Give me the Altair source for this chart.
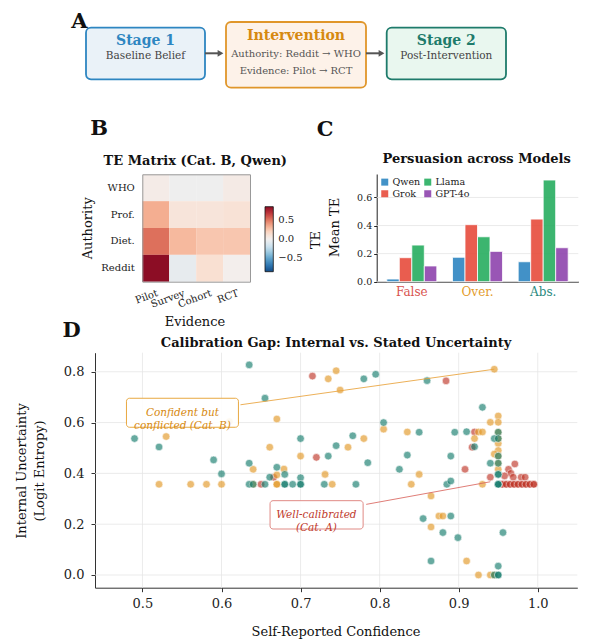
import altair as alt
import pandas as pd

FONT = "DejaVu Serif"
W, H = 578, 634

# ---------------- Panel A (flow diagram) ----------------
stage_titles = ["Stage 1", "Intervention", "Stage 2"]
stage_title_colors = ["#2e86c1", "#d68910", "#1e7b6b"]
box_x0 = [78, 218, 378.7]
box_x1 = [197, 358, 498]
box_y0 = [19.7, 14, 19.7]
box_y1 = [71.3, 79.7, 71.3]
box_fill = ["#eaf2f8", "#fdf2e9", "#e9f7ef"]
box_stroke = ["#2e86c1", "#e0962a", "#1e7b6b"]
arrow_x0 = [197, 358]
arrow_x1 = [212.5, 373.5]
arrow_y = [45.3, 45.3]

# ---------------- Panel B (TE matrix) ----------------
evidence = ["Pilot", "Survey", "Cohort", "RCT"]
authority = ["WHO", "Prof.", "Diet.", "Reddit"]
te_who = [0.03, -0.02, -0.02, 0.04]
te_prof = [0.34, 0.09, 0.09, 0.11]
te_diet = [0.52, 0.30, 0.25, 0.25]
te_reddit = [0.85, -0.06, 0.13, 0.01]

# ---------------- Panel C (bars) ----------------
groups = ["False", "Over.", "Abs."]
group_colors = ["#d9534f", "#e39c2b", "#2a8a7e"]
models = ["Qwen", "Grok", "Llama", "GPT-4o"]
model_colors = ["#2e86c1", "#e74c3c", "#27ae60", "#8e44ad"]
te_qwen = [0.019, 0.174, 0.142]
te_grok = [0.171, 0.406, 0.446]
te_llama = [0.261, 0.320, 0.724]
te_gpt = [0.112, 0.216, 0.242]

# ---------------- Panel D (scatter) ----------------
catA_conf = [0.650, 0.666, 0.720, 0.715, 0.884, 0.920, 0.917, 0.908, 0.940, 0.971,
             0.963, 0.966, 0.969, 0.979, 0.984, 0.958,
             0.955, 0.960, 0.965, 0.970, 0.975, 0.980, 0.985, 0.990, 0.995,
             0.955, 0.960, 0.965, 0.970, 0.975, 0.980, 0.985, 0.990, 0.995]
catA_unc = [0.357, 0.385, 0.463, 0.783, 0.764, 0.563, 0.503, 0.416, 0.385, 0.437,
            0.416, 0.400, 0.385, 0.385, 0.385, 0.390,
            0.357, 0.357, 0.357, 0.357, 0.357, 0.357, 0.357, 0.357, 0.357,
            0.357, 0.357, 0.357, 0.357, 0.357, 0.357, 0.357, 0.357, 0.357]
catB_conf = [0.521, 0.561, 0.581, 0.600, 0.640, 0.670, 0.670, 0.740,
             0.530, 0.610, 0.670, 0.661, 0.640, 0.679, 0.670, 0.700, 0.731,
             0.735, 0.745, 0.750, 0.805, 0.835, 0.780, 0.760, 0.850, 0.840,
             0.865, 0.875, 0.880, 0.865, 0.945, 0.950, 0.940, 0.950, 0.925,
             0.930, 0.920, 0.950, 0.950, 0.945, 0.950, 0.950, 0.950, 0.930,
             0.910, 0.925, 0.940, 0.945, 0.950, 0.950]
catB_unc = [0.357, 0.357, 0.357, 0.357, 0.357, 0.357, 0.357, 0.357,
            0.545, 0.604, 0.614, 0.503, 0.416, 0.417, 0.394, 0.468, 0.396,
            0.772, 0.804, 0.728, 0.574, 0.563, 0.537, 0.503, 0.396, 0.357,
            0.311, 0.232, 0.232, 0.189, 0.810, 0.626, 0.601, 0.601, 0.563,
            0.563, 0.537, 0.518, 0.490, 0.476, 0.468, 0.440, 0.416, 0.357,
            0.055, 0.000, 0.000, 0.000, 0.562, 0.537]
catC_conf = [0.490, 0.521, 0.590, 0.600, 0.635, 0.655, 0.635, 0.670, 0.661, 0.680,
             0.700, 0.700, 0.735, 0.745, 0.766, 0.785, 0.780, 0.795, 0.860, 0.805,
             0.850, 0.895, 0.910, 0.835, 0.890, 0.825, 0.770, 0.885, 0.890, 0.855,
             0.890, 0.880, 0.899, 0.865, 0.930, 0.920, 0.940, 0.956, 0.950, 0.945,
             0.950, 0.950,
             0.635, 0.640, 0.655, 0.680, 0.680, 0.690, 0.700, 0.700, 0.730,
             0.950, 0.945, 0.950, 0.950, 0.950, 0.950, 0.950, 0.950, 0.950, 0.950]
catC_unc = [0.537, 0.504, 0.453, 0.398, 0.827, 0.696, 0.440, 0.424, 0.385, 0.396,
            0.537, 0.383, 0.468, 0.509, 0.548, 0.442, 0.772, 0.790, 0.765, 0.600,
            0.562, 0.562, 0.564, 0.472, 0.468, 0.416, 0.357, 0.357, 0.370, 0.222,
            0.232, 0.167, 0.147, 0.055, 0.660, 0.505, 0.440, 0.167, 0.035, 0.000,
            0.000, 0.000,
            0.357, 0.357, 0.357, 0.357, 0.357, 0.357, 0.357, 0.357, 0.357,
            0.562, 0.537, 0.537, 0.468, 0.440, 0.396, 0.396, 0.357, 0.357, 0.357]
cats = ["Cat. A", "Cat. B", "Cat. C"]
cat_colors = ["#c0392b", "#e39a2a", "#1a7f70"]
x_ticks_D = [0.5, 0.6, 0.7, 0.8, 0.9, 1.0]
y_ticks_D = [0.0, 0.2, 0.4, 0.6, 0.8]
y_ticks_C = [0.0, 0.2, 0.4, 0.6]

ann_text = ["Confident but\nconflicted (Cat. B)", "Well-calibrated\n(Cat. A)"]
ann_x = [0.5506, 0.720]
ann_y = [0.638, 0.237]
ann_text_color = ["#d68910", "#c0392b"]
ann_box_color = ["#e8a840", "#e08a85"]
ann_bx0 = [0.4798, 0.6614]
ann_bx1 = [0.6214, 0.7791]
ann_by0 = [0.5815, 0.181]
ann_by1 = [0.6957, 0.2925]
ann_lx0 = [0.624, 0.783]
ann_ly0 = [0.670, 0.278]
ann_lx1 = [0.945, 0.940]
ann_ly1 = [0.810, 0.367]
ann_line_color = ["#e9a23b", "#d9665f"]

# ---------------- Texts (titles, panel letters, axis titles) ----------------
bold_txt = ["A", "B", "C", "D",
            "TE Matrix (Cat. B, Qwen)", "Persuasion across Models",
            "Calibration Gap: Internal vs. Stated Uncertainty",
            "Stage 1", "Intervention", "Stage 2"]
bold_x = [71.5, 91, 317, 63.5, 187.3, 468.7, 328, 137.5, 288, 438.3]
bold_y = [14, 120.5, 121.5, 322.5, 153, 151, 335, 32.5, 27.5, 32.5]
bold_size = [21, 21, 21, 21, 13, 13, 13, 14, 14, 14]
bold_col = ["#111", "#111", "#111", "#111", "#111", "#111", "#111"] + stage_title_colors

norm_txt = ["Baseline Belief", "Authority: Reddit \u2192 WHO", "Evidence: Pilot \u2192 RCT",
            "Post-Intervention", "Authority", "Evidence", "Mean TE", "TE",
            "Internal Uncertainty", "(Logit Entropy)", "Self-Reported Confidence"]
norm_x = [137.5, 288, 288, 438.3, 79.5, 187, 327, 308, 14, 32, 328]
norm_y = [48.2, 46.3, 63, 48.2, 220.3, 313.5, 219.5, 232, 463, 463, 623.5]
norm_size = [10.5, 10, 10, 10.5, 13, 13, 13, 13, 13, 13, 13]
norm_ang = [0, 0, 0, 0, 270, 0, 270, 270, 270, 270, 0]
norm_col = ["#444", "#555", "#555", "#444", "#111", "#111", "#111", "#111", "#111", "#111", "#111"]

# ======================= build =======================
# Panel A
dfA = pd.DataFrame({"x0": box_x0, "x1": box_x1, "y0": box_y0, "y1": box_y1,
                    "f": box_fill, "s": box_stroke})
rectA = alt.Chart(dfA).mark_rect(cornerRadius=5, strokeWidth=1.8).encode(
    x=alt.X("x0:Q", scale=None, axis=None), x2="x1:Q",
    y=alt.Y("y0:Q", scale=None, axis=None), y2="y1:Q",
    fill=alt.Fill("f:N", scale=None), stroke=alt.Stroke("s:N", scale=None))
dfArr = pd.DataFrame({"x0": arrow_x0, "x1": arrow_x1, "y": arrow_y})
arrows = alt.Chart(dfArr).mark_rule(color="#555", strokeWidth=2).encode(
    x=alt.X("x0:Q", scale=None, axis=None), x2="x1:Q",
    y=alt.Y("y:Q", scale=None, axis=None))
heads = alt.Chart(dfArr).mark_point(shape="triangle-right", filled=True, color="#555",
                                    size=45, opacity=1).encode(
    x=alt.X("x1:Q", scale=None, axis=None), y=alt.Y("y:Q", scale=None, axis=None))

# Panel B
rowsB = []
for a, vals in zip(authority, [te_who, te_prof, te_diet, te_reddit]):
    for e, v in zip(evidence, vals):
        rowsB.append({"au": a, "ev": e, "te": v})
dfB = pd.DataFrame(rowsB)
sxB = alt.Scale(domain=evidence, range=[134.3, 242], paddingInner=0, paddingOuter=0)
syB = alt.Scale(domain=authority, range=[166.3, 273.7], paddingInner=0, paddingOuter=0)
heat = alt.Chart(dfB).mark_rect().encode(
    x=alt.X("ev:N", scale=sxB, axis=alt.Axis(
        orient="bottom", offset=273.7 - H, title=None, tickSize=0, labelAngle=340,
        labelAlign="right", labelBaseline="top", labelPadding=6, labelFontSize=10,
        domainColor="#999", labelColor="#222")),
    y=alt.Y("au:N", scale=syB, axis=alt.Axis(
        orient="left", offset=-134.3, title=None, tickSize=0, labelPadding=8,
        labelFontSize=10, domainColor="#999", labelColor="#222")),
    color=alt.Color("te:Q", scale=alt.Scale(scheme="redblue", reverse=True,
                                            domain=[-0.85, 0.85], domainMid=0),
                    legend=alt.Legend(orient="none", legendX=257, legendY=198.7,
                                      gradientLength=65, gradientThickness=8.3,
                                      values=[-0.5, 0, 0.5], format=".1f", title=None,
                                      labelFontSize=10, labelOffset=5, padding=0,
                                      gradientStrokeColor="#111", gradientStrokeWidth=0.8,
                                      labelColor="#222")))
frameB = alt.Chart(dfB).mark_rect(opacity=0).encode(
    x=alt.X("ev:N", scale=sxB, axis=alt.Axis(orient="top", offset=-166.3, labels=False,
                                             ticks=False, title=None, domainColor="#999")),
    y=alt.Y("au:N", scale=syB, axis=alt.Axis(orient="right", offset=242 - W, labels=False,
                                             ticks=False, title=None, domainColor="#999")))
panelB = alt.layer(heat, frameB).resolve_axis(x="independent", y="independent")

# Panel C
rowsC = []
for m, vals in zip(models, [te_qwen, te_grok, te_llama, te_gpt]):
    for g, v in zip(groups, vals):
        rowsC.append({"grp": g, "model": m, "val": v})
dfC = pd.DataFrame(rowsC)
sxC = alt.Scale(domain=groups, range=[368.7, 570.3], paddingInner=0.239, paddingOuter=0.154)
syC = alt.Scale(domain=[0, 0.767], range=[273.7, 166], nice=False, zero=True)
gridC = alt.Chart(pd.DataFrame({"v": y_ticks_C})).mark_rule(
    color="#e4e4e4", strokeWidth=0.8).encode(
    y=alt.Y("v:Q", scale=syC, axis=alt.Axis(orient="left", offset=-368.7,
                                            values=y_ticks_C, format=".1f",
                                            title=None, grid=False, tickSize=3,
                                            labelPadding=2, labelFontSize=9.5,
                                            domainColor="#222", tickColor="#222",
                                            labelColor="#222")),
    x=alt.value(368.7), x2=alt.value(570.3))
bars = alt.Chart(dfC).mark_bar(opacity=0.9, stroke="white", strokeWidth=0.8).encode(
    x=alt.X("grp:N", scale=sxC, axis=alt.Axis(orient="bottom", offset=273.7 - H,
                                              labels=False, ticks=False, title=None,
                                              domainColor="#222")),
    xOffset=alt.XOffset("model:N", scale=alt.Scale(domain=models, paddingInner=0)),
    y=alt.Y("val:Q", scale=syC, axis=None),
    color=alt.Color("model:N", scale=alt.Scale(domain=models, range=model_colors),
                    legend=alt.Legend(orient="none", legendX=372, legendY=169,
                                      columns=2, symbolType="square", symbolSize=49,
                                      labelFontSize=9.5, title=None, columnPadding=2,
                                      rowPadding=1, padding=0, symbolOpacity=0.9,
                                      symbolStrokeWidth=0, labelOffset=3,
                                      labelColor="#222")))
dfCl = pd.DataFrame({"grp": groups, "gc": group_colors})
labelsC = alt.Chart(dfCl).mark_text(fontSize=12, font=FONT, baseline="middle").encode(
    x=alt.X("grp:N", scale=sxC, axis=None), y=alt.value(284),
    fill=alt.Fill("gc:N", scale=None), text="grp:N")
panelC = alt.layer(gridC, bars, labelsC).resolve_axis(x="independent", y="independent")

# Panel D
dfD = pd.DataFrame({
    "conf": catA_conf + catB_conf + catC_conf,
    "unc": catA_unc + catB_unc + catC_unc,
    "cat": ["Cat. A"] * len(catA_conf) + ["Cat. B"] * len(catB_conf) + ["Cat. C"] * len(catC_conf),
})


def sxD():
    return alt.Scale(domain=[0.44, 1.05], range=[87, 569.3], nice=False, zero=False)


def syD():
    return alt.Scale(domain=[-0.05, 0.875], range=[579.7, 344.7], nice=False, zero=False)


gxD = alt.Chart(pd.DataFrame({"v": x_ticks_D})).mark_rule(color="#e6e6e6", strokeWidth=0.8).encode(
    x=alt.X("v:Q", scale=sxD(), axis=alt.Axis(
        orient="bottom", offset=579.7 - H, values=x_ticks_D, format=".1f", title=None,
        grid=False, tickSize=4, labelPadding=6, labelFontSize=13, domainColor="#333",
        tickColor="#333", labelColor="#222")),
    y=alt.YDatum(-0.05, scale=syD(), axis=None), y2=alt.Y2Datum(0.875))
gyD = alt.Chart(pd.DataFrame({"v": y_ticks_D})).mark_rule(color="#e6e6e6", strokeWidth=0.8).encode(
    y=alt.Y("v:Q", scale=syD(), axis=alt.Axis(
        orient="left", offset=-87, values=y_ticks_D, format=".1f", title=None,
        grid=False, tickSize=4, labelPadding=7, labelFontSize=13, domainColor="#333",
        tickColor="#333", labelColor="#222")),
    x=alt.XDatum(0.44, scale=sxD(), axis=None), x2=alt.X2Datum(1.05))
pts = alt.Chart(dfD).mark_circle(size=58, opacity=0.66, stroke="white", strokeWidth=0.6).encode(
    x=alt.X("conf:Q", scale=sxD(), axis=None),
    y=alt.Y("unc:Q", scale=syD(), axis=None),
    color=alt.Color("cat:N", scale=alt.Scale(domain=cats, range=cat_colors), legend=None))
dfAnn = pd.DataFrame({"t": ann_text, "x": ann_x, "y": ann_y, "tc": ann_text_color,
                      "bc": ann_box_color, "bx0": ann_bx0, "bx1": ann_bx1,
                      "by0": ann_by0, "by1": ann_by1, "lx0": ann_lx0, "ly0": ann_ly0,
                      "lx1": ann_lx1, "ly1": ann_ly1, "lc": ann_line_color})
linesD = alt.Chart(dfAnn).mark_rule(strokeWidth=1, opacity=0.85).encode(
    x=alt.X("lx0:Q", scale=sxD(), axis=None), x2="lx1:Q",
    y=alt.Y("ly0:Q", scale=syD(), axis=None), y2="ly1:Q",
    stroke=alt.Stroke("lc:N", scale=None))
boxesD = alt.Chart(dfAnn).mark_rect(cornerRadius=3, fill="white", fillOpacity=0.9,
                                    strokeWidth=1).encode(
    x=alt.X("bx0:Q", scale=sxD(), axis=None), x2="bx1:Q",
    y=alt.Y("by0:Q", scale=syD(), axis=None), y2="by1:Q",
    stroke=alt.Stroke("bc:N", scale=None))
textD = alt.Chart(dfAnn).mark_text(font=FONT, fontSize=10.5, fontStyle="italic",
                                   lineBreak="\n", lineHeight=13.3, baseline="middle").encode(
    x=alt.X("x:Q", scale=sxD(), axis=None), y=alt.Y("y:Q", scale=syD(), axis=None),
    text="t:N", fill=alt.Fill("tc:N", scale=None))
panelD = alt.layer(gxD, gyD, pts, linesD, boxesD, textD).resolve_axis(
    x="independent", y="independent")

# Text layers
dfBold = pd.DataFrame({"t": bold_txt, "x": bold_x, "y": bold_y, "s": bold_size, "c": bold_col})
boldT = alt.Chart(dfBold).mark_text(font=FONT, fontWeight="bold", baseline="middle").encode(
    x=alt.X("x:Q", scale=None, axis=None), y=alt.Y("y:Q", scale=None, axis=None),
    size=alt.Size("s:Q", scale=None), color=alt.Color("c:N", scale=None), text="t:N")
dfNorm = pd.DataFrame({"t": norm_txt, "x": norm_x, "y": norm_y, "s": norm_size,
                       "a": norm_ang, "c": norm_col})
normT = alt.Chart(dfNorm).mark_text(font=FONT, baseline="middle").encode(
    x=alt.X("x:Q", scale=None, axis=None), y=alt.Y("y:Q", scale=None, axis=None),
    size=alt.Size("s:Q", scale=None), angle=alt.Angle("a:Q", scale=None),
    color=alt.Color("c:N", scale=None), text="t:N")

chart = alt.layer(
    rectA, arrows, heads, panelB, panelC, panelD, boldT, normT
).resolve_scale(
    x="independent", y="independent", color="independent"
).resolve_axis(
    x="independent", y="independent"
).resolve_legend(
    color="independent"
).properties(
    width=W, height=H, padding=0, autosize=alt.AutoSizeParams(type="none")
).configure_view(
    stroke=None
).configure_axis(
    labelFont=FONT, titleFont=FONT
).configure_legend(
    labelFont=FONT
)

chart.save("out.html", embed_options={"renderer": "svg", "actions": False})
